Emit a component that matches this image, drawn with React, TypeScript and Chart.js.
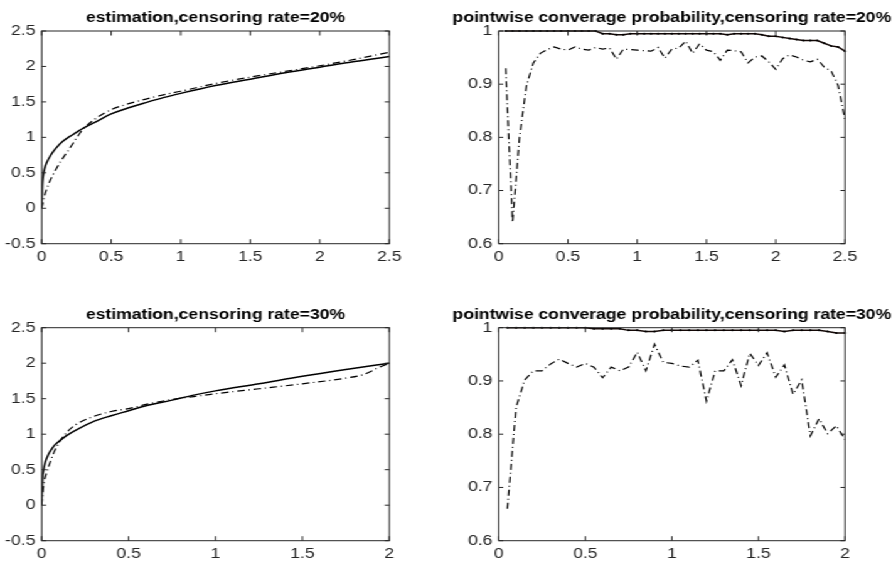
import React, { useEffect, useRef } from "react";
import { Chart, registerables } from "chart.js";

Chart.register(...registerables);

// The reference figure is stretched horizontally; draw narrower and stretch.
const STRETCH = 1.255;
const FONT = '"Liberation Sans", Arial, Helvetica, sans-serif';

// ---------- Titles ----------
const titleEst20 = "estimation,censoring rate=20%";
const titleCov20 = "pointwise converage probability,censoring rate=20%";
const titleEst30 = "estimation,censoring rate=30%";
const titleCov30 = "pointwise converage probability,censoring rate=30%";

// ---------- Tick labels ----------
const xTicks20 = [0, 0.5, 1, 1.5, 2, 2.5];
const xTicks30 = [0, 0.5, 1, 1.5, 2];
const yTicksEst = [-0.5, 0, 0.5, 1, 1.5, 2, 2.5];
const yTicksCov = [0.6, 0.7, 0.8, 0.9, 1];

// ---------- Estimation, censoring 20% ----------
const est20TrueX = [0, 0.005, 0.01, 0.02, 0.04, 0.06, 0.08, 0.1, 0.15, 0.2, 0.25, 0.3, 0.4, 0.5, 0.6, 0.75, 0.875, 1, 1.25, 1.5, 1.75, 2, 2.25, 2.5];
const est20TrueY = [0, 0.33, 0.44, 0.55, 0.66, 0.73, 0.79, 0.84, 0.94, 1.01, 1.07, 1.13, 1.23, 1.33, 1.4, 1.49, 1.56, 1.62, 1.73, 1.82, 1.91, 1.99, 2.07, 2.14];
const est20HatX = [0, 0.02, 0.05, 0.1, 0.15, 0.2, 0.25, 0.3, 0.4, 0.5, 0.6, 0.75, 0.875, 1, 1.25, 1.5, 1.75, 2, 2.25, 2.5];
const est20HatY = [0, 0.17, 0.34, 0.54, 0.7, 0.84, 0.99, 1.12, 1.28, 1.39, 1.46, 1.54, 1.6, 1.65, 1.76, 1.85, 1.93, 2.01, 2.1, 2.2];

// ---------- Estimation, censoring 30% ----------
const est30TrueX = [0, 0.005, 0.01, 0.02, 0.04, 0.06, 0.08, 0.1, 0.15, 0.2, 0.3, 0.4, 0.5, 0.6, 0.75, 0.875, 1, 1.25, 1.5, 1.75, 2];
const est30TrueY = [0, 0.38, 0.48, 0.6, 0.72, 0.8, 0.86, 0.9, 0.99, 1.06, 1.18, 1.26, 1.33, 1.4, 1.48, 1.55, 1.61, 1.71, 1.815, 1.91, 2.0];
const est30HatX = [0, 0.01, 0.03, 0.05, 0.07, 0.1, 0.15, 0.2, 0.3, 0.4, 0.5, 0.6, 0.75, 0.875, 1, 1.25, 1.5, 1.75, 1.85, 1.95, 2];
const est30HatY = [0, 0.26, 0.47, 0.61, 0.74, 0.88, 1.04, 1.14, 1.25, 1.32, 1.36, 1.42, 1.49, 1.53, 1.57, 1.64, 1.71, 1.79, 1.84, 1.95, 2.0];

// ---------- Coverage, censoring 20% ----------
const cov20X = [
  0.05, 0.1, 0.15, 0.2, 0.25, 0.3, 0.35, 0.4, 0.45, 0.5,
  0.55, 0.6, 0.65, 0.7, 0.75, 0.8, 0.85, 0.9, 0.95, 1.0,
  1.05, 1.1, 1.15, 1.2, 1.25, 1.3, 1.35, 1.4, 1.45, 1.5,
  1.55, 1.6, 1.65, 1.7, 1.75, 1.8, 1.85, 1.9, 1.95, 2.0,
  2.05, 2.1, 2.15, 2.2, 2.25, 2.3, 2.35, 2.4, 2.45, 2.5,
];
const cov20Solid = [
  1, 1, 1, 1, 1, 1, 1, 1, 1, 1,
  1, 1, 1, 1, 0.995, 0.995, 0.993, 0.993, 0.995, 0.995,
  0.995, 0.995, 0.995, 0.995, 0.995, 0.995, 0.995, 0.995, 0.995, 0.995,
  0.995, 0.995, 0.993, 0.995, 0.995, 0.995, 0.995, 0.993, 0.99, 0.99,
  0.988, 0.986, 0.984, 0.982, 0.982, 0.982, 0.977, 0.972, 0.97, 0.962,
];
const cov20Dash = [
  0.93, 0.64, 0.8, 0.897, 0.94, 0.958, 0.965, 0.97, 0.966, 0.964,
  0.97, 0.966, 0.964, 0.969, 0.966, 0.968, 0.947, 0.966, 0.965, 0.964,
  0.963, 0.962, 0.969, 0.949, 0.966, 0.968, 0.981, 0.958, 0.976, 0.964,
  0.961, 0.945, 0.964, 0.963, 0.961, 0.94, 0.951, 0.953, 0.942, 0.928,
  0.948, 0.955, 0.951, 0.945, 0.942, 0.947, 0.932, 0.925, 0.898, 0.834,
];

// ---------- Coverage, censoring 30% ----------
const cov30X = [
  0.05, 0.1, 0.15, 0.2, 0.25, 0.3, 0.35, 0.4, 0.45, 0.5,
  0.55, 0.6, 0.65, 0.7, 0.75, 0.8, 0.85, 0.9, 0.95, 1.0,
  1.05, 1.1, 1.15, 1.2, 1.25, 1.3, 1.35, 1.4, 1.45, 1.5,
  1.55, 1.6, 1.65, 1.7, 1.75, 1.8, 1.85, 1.9, 1.95, 2.0,
];
const cov30Solid = [
  1, 1, 1, 1, 1, 1, 1, 1, 1, 1,
  0.998, 0.998, 0.998, 0.998, 0.995, 0.995, 0.993, 0.993, 0.995, 0.995,
  0.995, 0.995, 0.995, 0.995, 0.995, 0.995, 0.995, 0.995, 0.995, 0.995,
  0.995, 0.995, 0.993, 0.995, 0.995, 0.995, 0.995, 0.993, 0.99, 0.99,
];
const cov30Dash = [
  0.66, 0.85, 0.902, 0.919, 0.919, 0.932, 0.941, 0.933, 0.926, 0.933,
  0.926, 0.906, 0.926, 0.919, 0.926, 0.954, 0.919, 0.969, 0.935, 0.933,
  0.928, 0.926, 0.939, 0.862, 0.919, 0.919, 0.94, 0.891, 0.952, 0.929,
  0.953, 0.907, 0.93, 0.875, 0.902, 0.797, 0.829, 0.801, 0.816, 0.79,
];

const pts = (xs: number[], ys: number[]) => xs.map((x, i) => ({ x, y: ys[i] }));

const framePlugin = {
  id: "matlabFrame",
  afterDraw(chart: any, _args: any, opts: any) {
    const { ctx, chartArea: a, scales } = chart;
    ctx.save();
    ctx.strokeStyle = "#262626";
    ctx.lineWidth = 1;
    ctx.setLineDash([]);
    ctx.strokeRect(a.left, a.top, a.right - a.left, a.bottom - a.top);
    const tl = 4.5;
    const tlx = 3.6;
    ctx.beginPath();
    for (const t of scales.x.ticks) {
      const px = scales.x.getPixelForValue(t.value);
      ctx.moveTo(px, a.bottom);
      ctx.lineTo(px, a.bottom - tl);
      ctx.moveTo(px, a.top);
      ctx.lineTo(px, a.top + tl);
    }
    for (const t of scales.y.ticks) {
      const py = scales.y.getPixelForValue(t.value);
      ctx.moveTo(a.left, py);
      ctx.lineTo(a.left + tlx, py);
      ctx.moveTo(a.right, py);
      ctx.lineTo(a.right - tlx, py);
    }
    ctx.stroke();
    ctx.fillStyle = "#000";
    ctx.font = `bold 14px ${FONT}`;
    ctx.textAlign = "center";
    ctx.textBaseline = "middle";
    ctx.fillText(opts.text, (a.left + a.right) / 2, a.top - 13);
    ctx.restore();
  },
};

type PanelProps = {
  left: number;
  top: number;
  width: number;
  height: number;
  area: { l: number; t: number; r: number; b: number };
  title: string;
  xMin: number;
  xMax: number;
  yMin: number;
  yMax: number;
  xTicks: number[];
  yTicks: number[];
  datasets: any[];
};

function Panel(p: PanelProps) {
  const ref = useRef<HTMLCanvasElement | null>(null);
  useEffect(() => {
    if (!ref.current) return;
    const tickFont = { family: FONT, size: 14 };
    const chart = new Chart(ref.current, {
      type: "line",
      data: { datasets: p.datasets },
      plugins: [framePlugin],
      options: {
        animation: false,
        responsive: false,
        events: [],
        layout: { padding: { left: 0, top: p.area.t, right: p.width - p.area.r, bottom: 0 } },
        plugins: {
          legend: { display: false },
          tooltip: { enabled: false },
          title: { display: false },
          matlabFrame: { text: p.title },
        } as any,
        scales: {
          x: {
            type: "linear",
            min: p.xMin,
            max: p.xMax,
            afterBuildTicks: (s: any) => {
              s.ticks = p.xTicks.map((v) => ({ value: v }));
            },
            afterFit: (s: any) => {
              s.height = p.height - p.area.b;
            },
            grid: { display: false, drawTicks: false, tickLength: 0 },
            border: { display: false },
            ticks: {
              padding: 5,
              color: "#262626",
              font: tickFont,
              maxRotation: 0,
              autoSkip: false,
              callback: (v: any) => String(Math.round(Number(v) * 10) / 10),
            },
          },
          y: {
            type: "linear",
            min: p.yMin,
            max: p.yMax,
            afterBuildTicks: (s: any) => {
              s.ticks = p.yTicks.map((v) => ({ value: v }));
            },
            afterFit: (s: any) => {
              s.width = p.area.l;
            },
            grid: { display: false, drawTicks: false, tickLength: 0 },
            border: { display: false },
            ticks: {
              padding: 5,
              color: "#262626",
              font: tickFont,
              autoSkip: false,
              callback: (v: any) => String(Math.round(Number(v) * 10) / 10),
            },
          },
        },
      } as any,
    });
    return () => chart.destroy();
  }, []);
  return (
    <canvas
      ref={ref}
      width={p.width}
      height={p.height}
      style={{ position: "absolute", left: p.left, top: p.top, width: p.width, height: p.height }}
    />
  );
}

const solidEst = (data: any[]) => ({
  data,
  borderColor: "#000",
  borderWidth: 1.5,
  pointRadius: 0,
  cubicInterpolationMode: "monotone",
  fill: false,
});
const dashEst = (data: any[]) => ({
  data,
  borderColor: "#000",
  borderWidth: 1.2,
  borderDash: [6, 3, 1, 3],
  pointRadius: 0,
  cubicInterpolationMode: "monotone",
  fill: false,
});
const solidCov = (data: any[]) => ({
  data,
  borderColor: "#140806",
  borderWidth: 1.5,
  pointRadius: 1,
  pointBorderWidth: 0,
  pointBackgroundColor: "#000",
  tension: 0,
  clip: false,
  fill: false,
});
const dashCov = (data: any[]) => ({
  data,
  borderColor: "#000",
  borderWidth: 1.2,
  borderDash: [6, 3, 1, 3],
  pointRadius: 0,
  tension: 0,
  clip: false,
  fill: false,
});

export default function App() {
  const W = 357;
  const Htop = 282;
  const Hbot = 283;
  const leftArea = { l: 33.2, r: 310.2 };
  const rightArea = { l: 40.4, r: 316.3 };
  const topRow = { t: 31, b: 243.7 };
  const botRow = { t: 45.7, b: 258.7 };
  return (
    <div
      style={{
        position: "absolute",
        left: 0,
        top: 0,
        width: 714,
        height: 565,
        background: "#fff",
        transform: `scaleX(${STRETCH})`,
        transformOrigin: "0 0",
      }}
    >
      <Panel
        left={0}
        top={0}
        width={W}
        height={Htop}
        area={{ ...leftArea, ...topRow }}
        title={titleEst20}
        xMin={0}
        xMax={2.5}
        yMin={-0.5}
        yMax={2.5}
        xTicks={xTicks20}
        yTicks={yTicksEst}
        datasets={[solidEst(pts(est20TrueX, est20TrueY)), dashEst(pts(est20HatX, est20HatY))]}
      />
      <Panel
        left={W}
        top={0}
        width={W}
        height={Htop}
        area={{ ...rightArea, ...topRow }}
        title={titleCov20}
        xMin={0}
        xMax={2.5}
        yMin={0.6}
        yMax={1}
        xTicks={xTicks20}
        yTicks={yTicksCov}
        datasets={[solidCov(pts(cov20X, cov20Solid)), dashCov(pts(cov20X, cov20Dash))]}
      />
      <Panel
        left={0}
        top={Htop}
        width={W}
        height={Hbot}
        area={{ ...leftArea, ...botRow }}
        title={titleEst30}
        xMin={0}
        xMax={2}
        yMin={-0.5}
        yMax={2.5}
        xTicks={xTicks30}
        yTicks={yTicksEst}
        datasets={[solidEst(pts(est30TrueX, est30TrueY)), dashEst(pts(est30HatX, est30HatY))]}
      />
      <Panel
        left={W}
        top={Htop}
        width={W}
        height={Hbot}
        area={{ ...rightArea, ...botRow }}
        title={titleCov30}
        xMin={0}
        xMax={2}
        yMin={0.6}
        yMax={1}
        xTicks={xTicks30}
        yTicks={yTicksCov}
        datasets={[solidCov(pts(cov30X, cov30Solid)), dashCov(pts(cov30X, cov30Dash))]}
      />
    </div>
  );
}
